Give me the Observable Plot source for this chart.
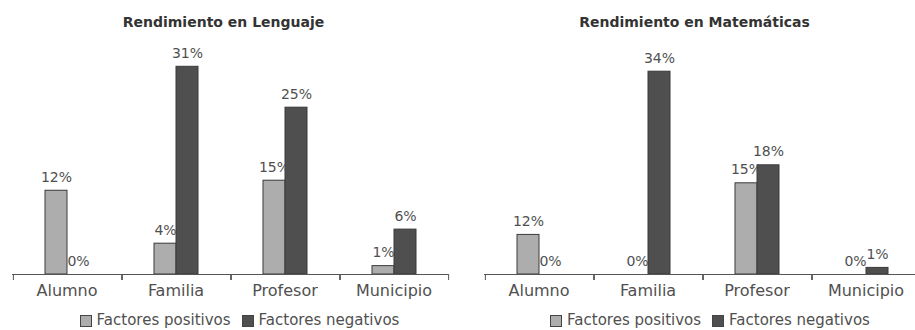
<!DOCTYPE html>
<html><head><meta charset="utf-8">
<script src="https://cdn.jsdelivr.net/npm/d3@7"></script>
<script src="https://cdn.jsdelivr.net/npm/@observablehq/plot@0.6"></script>
<style>
body{margin:0;background:#fff;width:915px;height:330px;overflow:hidden;position:relative;font-family:"DejaVu Sans",sans-serif;}
.panel{position:absolute;top:0;height:330px;}
.title{position:absolute;top:0;height:40px;line-height:45px;width:400px;text-align:center;font-weight:bold;font-size:14px;color:#333;white-space:nowrap;}
.plot{position:absolute;top:40px;left:0;}
.legend{position:absolute;top:312px;width:400px;display:flex;justify-content:center;align-items:center;font-size:15px;color:#505050;white-space:nowrap;line-height:17px;}
.sw{display:inline-block;width:10px;height:10px;border:1px solid #444;margin-right:5px;}
.gap{display:inline-block;width:11px;}
</style>
</head><body>
<script>
const categories = ["Alumno", "Familia", "Profesor", "Municipio"];
const series = ["Factores positivos", "Factores negativos"];
const titles = ["Rendimiento en Lenguaje", "Rendimiento en Matemáticas"];

// bar heights (units of each panel's scale)
const lenguajePos = [12.5, 4.6, 14.0, 1.25];
const lenguajeNeg = [0, 31, 24.9, 6.7];
const matematicasPos = [6.6, 0, 15.2, 0];
const matematicasNeg = [0, 33.8, 18.2, 1.1];

// printed value labels
const lenguajePosLabels = ["12%", "4%", "15%", "1%"];
const lenguajeNegLabels = ["0%", "31%", "25%", "6%"];
const matematicasPosLabels = ["12%", "0%", "15%", "0%"];
const matematicasNegLabels = ["0%", "34%", "18%", "1%"];

const colors = ["#adadad", "#4f4f4f"];

const panels = [
  {title: titles[0], pos: lenguajePos, neg: lenguajeNeg, posL: lenguajePosLabels, negL: lenguajeNegLabels,
   left: 0, ml: 11, mr: 9, unit: 6.7, titleC: 223.5, legendC: 239.5},
  {title: titles[1], pos: matematicasPos, neg: matematicasNeg, posL: matematicasPosLabels, negL: matematicasNegLabels,
   left: 457, ml: 26, mr: 0, unit: 6.0, titleC: 237.5, legendC: 253}
];

const H = 264, MB = 30, plotW = 437, barW = 23;

for (const p of panels) {
  const rows = categories.flatMap((c, i) => [
    {cat: c, series: series[0], value: p.pos[i], label: p.posL[i]},
    {cat: c, series: series[1], value: p.neg[i], label: p.negL[i]}
  ]);
  const fw = plotW / categories.length;
  const po = (fw / barW - 2) / 2;
  const half = fw / 2 - barW / 2;
  const base = H - MB;
  const panel = document.createElement("div");
  panel.className = "panel";
  panel.style.left = p.left + "px";
  panel.style.width = (p.ml + plotW + p.mr) + "px";
  document.body.appendChild(panel);

  const t = document.createElement("div");
  t.className = "title";
  t.style.left = (p.titleC - 200) + "px";
  t.textContent = p.title;
  panel.appendChild(t);

  const svg = Plot.plot({
    width: p.ml + plotW + p.mr, height: H,
    marginLeft: p.ml, marginRight: p.mr, marginTop: 0, marginBottom: MB,
    facet: {data: rows, x: "cat"},
    fx: {domain: categories, padding: 0, label: null, tickSize: 0, tickPadding: 10, axis: "bottom"},
    x: {domain: series, paddingInner: 0, paddingOuter: po, axis: null},
    y: {domain: [0, base / p.unit], axis: null},
    color: {domain: series, range: colors},
    style: {fontFamily: "DejaVu Sans", fontSize: "16px", color: "#505050", background: "transparent", overflow: "visible"},
    marks: [
      Plot.barY(rows, {x: "series", y: "value", fill: "series", stroke: "#3a3a3a", strokeWidth: 1}),
      Plot.ruleY([0], {stroke: "#555", strokeWidth: 1.2}),
      Plot.ruleX([series[0]], {y1: 0, y2: -6 / p.unit, dx: -half, stroke: "#555"}),
      Plot.ruleX([series[1]], {y1: 0, y2: -6 / p.unit, dx: half, stroke: "#555"}),
      Plot.text(rows, {x: "series", y: "value", text: "label", dy: -9, lineAnchor: "bottom", fontSize: 14, fill: "#505050"})
    ]
  });
  svg.classList.add("plot");
  panel.appendChild(svg);

  const lg = document.createElement("div");
  lg.className = "legend";
  lg.style.left = (p.legendC - 200) + "px";
  series.forEach((s, i) => {
    if (i > 0) { const g = document.createElement("span"); g.className = "gap"; lg.appendChild(g); }
    const sw = document.createElement("span");
    sw.className = "sw";
    sw.style.background = colors[i];
    lg.appendChild(sw);
    const tx = document.createElement("span");
    tx.textContent = s;
    lg.appendChild(tx);
  });
  panel.appendChild(lg);
}
</script>
</body></html>
